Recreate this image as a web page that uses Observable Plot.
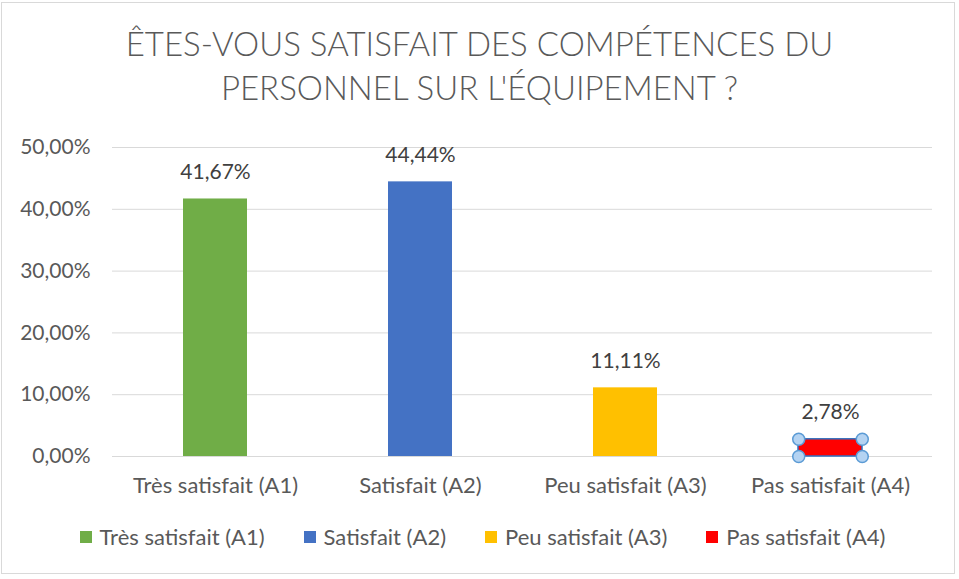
<!DOCTYPE html>
<html>
<head>
<meta charset="utf-8">
<script src="https://cdn.jsdelivr.net/npm/d3@7"></script>
<script src="https://cdn.jsdelivr.net/npm/@observablehq/plot@0.6"></script>
<style>
  html, body { margin: 0; padding: 0; background: #fff; }
  #frame { position: absolute; left: 1px; top: 2px; width: 954px; height: 572px; border: 1px solid #d9d9d9; box-sizing: border-box; background: #fff; }
  #title { position: absolute; left: 0; top: 21px; width: 959px; text-align: center; font-family: Lato, "Open Sans", sans-serif; font-weight: 300; font-size: 33px; line-height: 44px; color: #595959; }
  #chart { position: absolute; left: 0; top: 120px; }
  #legend { position: absolute; left: 0; top: 523px; width: 959px; display: flex; justify-content: center; gap: 39px; font-family: Lato, "Open Sans", sans-serif; font-size: 22px; line-height: 28px; color: #595959; padding-left: 6px; box-sizing: border-box; }
  #legend .item { display: flex; align-items: center; gap: 8px; }
  #legend .sw { width: 12px; height: 12px; display: inline-block; }
</style>
</head>
<body>
<div id="frame"></div>
<div id="title">ÊTES-VOUS SATISFAIT DES COMPÉTENCES DU<br>PERSONNEL SUR L'ÉQUIPEMENT ?</div>
<div id="chart"></div>
<div id="legend"></div>
<script>
const categories = ["Très satisfait (A1)", "Satisfait (A2)", "Peu satisfait (A3)", "Pas satisfait (A4)"];
const values = [0.4167, 0.4444, 0.1111, 0.0278];
const colors = ["#70AD47", "#4472C4", "#FFC000", "#FF0000"];
const yTicks = [0, 0.1, 0.2, 0.3, 0.4, 0.5];

const fmt = v => (v * 100).toFixed(2).replace(".", ",") + "%";
const data = categories.map((c, i) => ({ cat: c, value: values[i] }));
const selected = data.slice(-1);

const W = 959, H = 390, mL = 112, mR = 27, mT = 27, mB = 54;
const pInner = 0.69, pOuter = 0.345;
const bw = d3.scaleBand().domain(categories).range([mL, W - mR]).paddingInner(pInner).paddingOuter(pOuter).bandwidth();

const handle = { r: 6, fill: "#B4D3F2", stroke: "#5B9BD5", strokeWidth: 1.5 };

const plot = Plot.plot({
  width: W, height: H,
  marginLeft: mL, marginRight: mR, marginTop: mT, marginBottom: mB,
  style: { fontFamily: "Lato, 'Open Sans', sans-serif", fontSize: "22px", color: "#595959", background: "transparent" },
  x: { domain: categories, paddingInner: pInner, paddingOuter: pOuter, label: null },
  y: { domain: [0, 0.5], label: null },
  color: { domain: categories, range: colors },
  marks: [
    Plot.gridY(yTicks, { stroke: "#d9d9d9", strokeOpacity: 1, strokeWidth: 1 }),
    Plot.axisY(yTicks, { tickSize: 0, tickPadding: 22, tickFormat: fmt, label: null, fill: "#595959", fontSize: 21 }),
    Plot.axisX({ tickSize: 0, tickPadding: 21, label: null, fill: "#595959", fontSize: 22 }),
    Plot.barY(data, { x: "cat", y: "value", fill: "cat" }),
    Plot.barY(selected, { x: "cat", y: "value", fill: "cat", stroke: "#2F6FC0", strokeWidth: 1.5 }),
    Plot.text(data, { x: "cat", y: "value", text: d => fmt(d.value), dy: -27, fill: "#404040", fontSize: 21 }),
    Plot.dot(selected, { x: "cat", y: "value", dx: -bw / 2, ...handle }),
    Plot.dot(selected, { x: "cat", y: "value", dx: bw / 2, ...handle }),
    Plot.dot(selected, { x: "cat", y: () => 0, dx: -bw / 2, ...handle }),
    Plot.dot(selected, { x: "cat", y: () => 0, dx: bw / 2, ...handle })
  ]
});
document.getElementById("chart").appendChild(plot);

const legend = document.getElementById("legend");
categories.forEach((c, i) => {
  const it = document.createElement("div");
  it.className = "item";
  const sw = document.createElement("span");
  sw.className = "sw";
  sw.style.background = colors[i];
  const t = document.createElement("span");
  t.textContent = c;
  it.appendChild(sw); it.appendChild(t);
  legend.appendChild(it);
});
</script>
</body>
</html>
